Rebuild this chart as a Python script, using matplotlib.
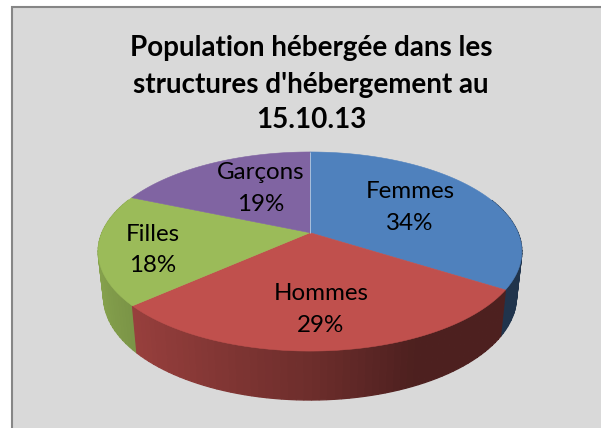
import numpy as np
import matplotlib
matplotlib.use("Agg")
import matplotlib.pyplot as plt
from matplotlib.patches import Polygon, Rectangle

# ---- data
categories = ["Femmes", "Hommes", "Filles", "Garçons"]
values = [34.0, 29.4, 18.0, 18.6]
percent_labels = ["34%", "29%", "18%", "19%"]
title_lines = ["Population hébergée dans les", "structures d'hébergement au", "15.10.13"]

# ---- style / layout
top_colors = ["#4F81BD", "#C0504D", "#9BBB59", "#8064A2"]
label_xy = [(410, 207), (321, 310), (153, 250), (261, 188)]
title_y = [48, 85, 120]
W, H = 601, 428
CX, APEX_Y, KX = 310.0, 232.7, 208.0
A, C = -52.0, 0.189
ELL_Y = 251.5
BOT_SX, BOT_SY, BOT_OFF = 0.975, 1.04, 45.0


def project(theta):
    X, Y = np.sin(theta), np.cos(theta)
    d = 1 + C * Y
    return CX + KX * X / d, (A * Y + APEX_Y) / d


def project_bottom(theta):
    x, y = project(theta)
    return CX + (x - CX) * BOT_SX, ELL_Y + (y - ELL_Y) * BOT_SY + BOT_OFF


def shade(theta):
    X = np.sin(theta)
    return np.interp(X, [-1, -0.84, 0, 0.42, 1], [0.88, 0.82, 0.57, 0.40, 0.40])


fig = plt.figure(figsize=(W / 100, H / 100), dpi=100, facecolor="white")
ax = fig.add_axes([0, 0, 1, 1])
ax.set_xlim(0, W)
ax.set_ylim(H, 0)
ax.axis("off")

ax.add_patch(Rectangle((12, 7), W, H, facecolor="#D9D9D9", edgecolor="#868686", linewidth=1.5))

fractions = np.array(values) / np.sum(values)
edges = np.concatenate([[0], np.cumsum(fractions)]) * 2 * np.pi

# sides, back to front
strips = []
for i, col in enumerate(top_colors):
    n = max(int((edges[i + 1] - edges[i]) / 0.03), 2)
    t = np.linspace(edges[i], edges[i + 1], n + 1)
    rgb = np.array(matplotlib.colors.to_rgb(col))
    for a, b in zip(t[:-1], t[1:]):
        if np.cos((a + b) / 2) < 0.35:
            strips.append((a, b, rgb))
strips.sort(key=lambda s: project((s[0] + s[1]) / 2)[1])
for a, b, rgb in strips:
    ta = np.linspace(a, b, 6)
    top = np.column_stack(project(ta))
    bot = np.column_stack(project_bottom(ta[::-1]))
    c = rgb * shade((a + b) / 2)
    ax.add_patch(Polygon(np.vstack([top, bot]), closed=True,
                         facecolor=c, edgecolor=c, linewidth=0.9))

# top faces
for i, col in enumerate(top_colors):
    t = np.linspace(edges[i], edges[i + 1], 200)
    x, y = project(t)
    pts = np.vstack([[CX, APEX_Y], np.column_stack([x, y])])
    ax.add_patch(Polygon(pts, closed=True, facecolor=col, edgecolor=col, linewidth=0.4))

# light seam at the start of the first slice
x0, y0 = project(edges[0])
ax.plot([CX, x0], [APEX_Y, y0], color="#A9C0DC", lw=0.7, solid_capstyle="butt")

for yy, line in zip(title_y, title_lines):
    ax.text(311, yy, line, ha="center", va="center", family="Lato", weight="bold",
            fontsize=20.0, color="black")

for (lx, ly), cat, pct in zip(label_xy, categories, percent_labels):
    ax.text(lx, ly - 16, cat, ha="center", va="center", family="Lato", fontsize=17.4, color="black")
    ax.text(lx, ly + 16, pct, ha="center", va="center", family="Lato", fontsize=17.4, color="black")

fig.savefig("out.png", dpi=100, facecolor="white")
